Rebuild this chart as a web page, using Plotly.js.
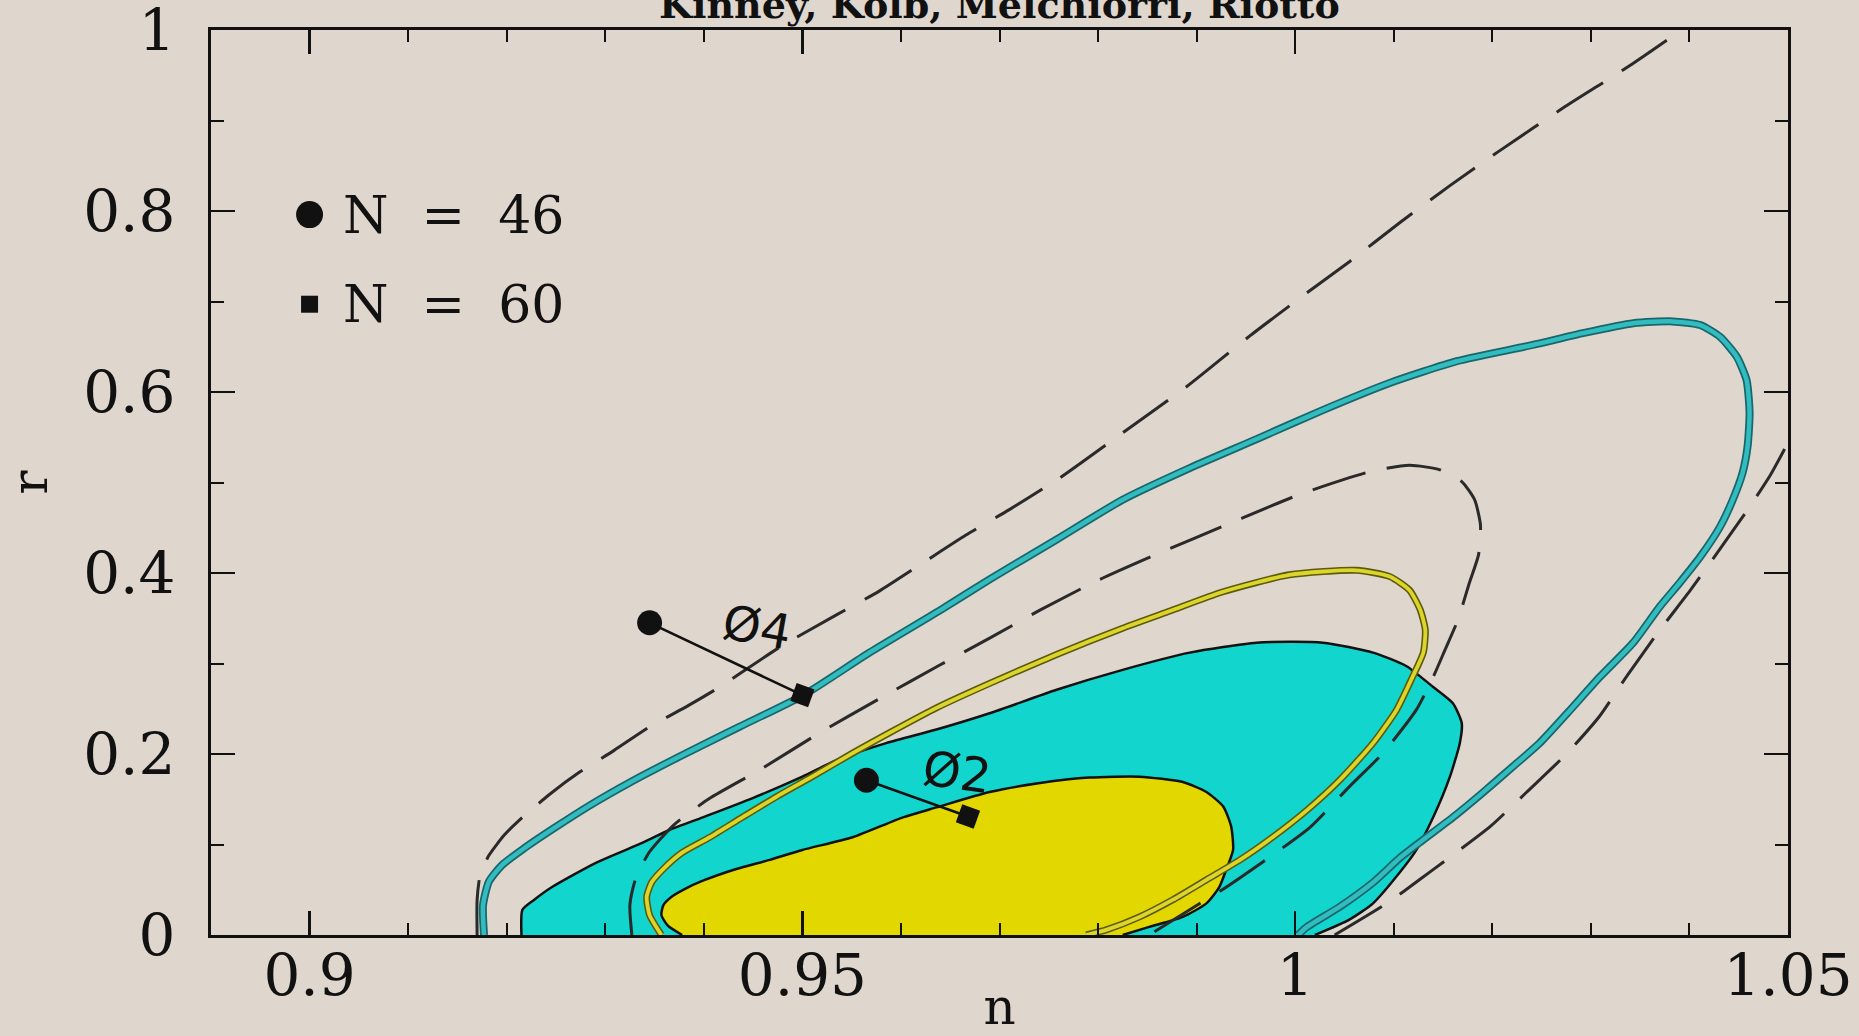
<!DOCTYPE html>
<html><head><meta charset="utf-8">
<script src="https://cdn.plot.ly/plotly-3.0.1.min.js"></script>
<style>html,body{margin:0;padding:0;background:#dfd6cd;overflow:hidden}</style>
</head><body><div id="chart" style="width:1859px;height:1036px"></div>
<script>
// ---- data (n, r) ----
const cyanFillN = [0.9215,0.9216,0.9228,0.9246,0.9291,0.9338,0.9365,0.9399,0.9449,0.9500,0.9534,0.9585,0.9636,0.9690,0.9758,0.9825,0.9893,0.9961,1.0028,1.0079,1.0113,1.0140,1.0160,1.0169,1.0167,1.0157,1.0140,1.0123,1.0106,1.0079,1.0055,1.0020];
const cyanFillR = [0,0.028,0.039,0.053,0.080,0.102,0.116,0.130,0.151,0.175,0.193,0.212,0.227,0.245,0.271,0.293,0.312,0.323,0.323,0.312,0.297,0.274,0.256,0.234,0.212,0.175,0.130,0.094,0.069,0.035,0.017,0];

const yellowFillN = [0.9378,0.9363,0.9357,0.9359,0.9367,0.9381,0.9399,0.9433,0.9467,0.9500,0.9551,0.9602,0.9636,0.9690,0.9741,0.9791,0.9842,0.9886,0.9910,0.9927,0.9935,0.9937,0.9930,0.9923,0.9910,0.9886,0.9852,0.9825];
const yellowFillR = [0,0.011,0.022,0.033,0.042,0.051,0.060,0.073,0.083,0.094,0.108,0.130,0.141,0.158,0.168,0.174,0.175,0.169,0.158,0.142,0.120,0.094,0.072,0.053,0.035,0.020,0.009,0];

const cyanLineN = [0.9177,0.9176,0.9182,0.9195,0.9218,0.9248,0.9284,0.9324,0.9375,0.9436,0.9501,0.9568,0.9640,0.9690,0.9758,0.9825,0.9893,0.9961,1.0028,1.0096,1.0164,1.0241,1.0292,1.0343,1.0383,1.0411,1.0431,1.0448,1.0458,1.0461,1.0459,1.0454,1.0444,1.0431,1.0411,1.0390,1.0370,1.0343,1.0309,1.0276,1.0248,1.0225,1.0190,1.0160,1.0126,1.0106,1.0079,1.0045,1.0012,1.0003];
const cyanLineR = [0,0.033,0.059,0.077,0.096,0.118,0.143,0.168,0.197,0.230,0.265,0.312,0.359,0.393,0.437,0.481,0.516,0.548,0.580,0.610,0.634,0.652,0.665,0.676,0.678,0.674,0.661,0.639,0.613,0.577,0.540,0.511,0.481,0.451,0.418,0.389,0.363,0.323,0.285,0.245,0.212,0.190,0.157,0.130,0.102,0.085,0.058,0.031,0.009,0];

const yellowLineN = [0.9357,0.9345,0.9342,0.9347,0.9358,0.9378,0.9406,0.9439,0.9474,0.9510,0.9551,0.9591,0.9636,0.9690,0.9758,0.9825,0.9873,0.9926,0.9994,1.0062,1.0096,1.0116,1.0127,1.0132,1.0130,1.0119,1.0103,1.0079,1.0045,1.0012,0.9977,0.9944,0.9910,0.9876,0.9842,0.9809,0.9788];
const yellowLineR = [0,0.022,0.042,0.058,0.072,0.091,0.108,0.130,0.153,0.175,0.201,0.225,0.251,0.278,0.310,0.339,0.358,0.379,0.398,0.403,0.396,0.381,0.359,0.337,0.312,0.285,0.249,0.212,0.171,0.138,0.108,0.083,0.061,0.039,0.020,0.006,0];

const innerDashN = [0.9327,0.9325,0.9331,0.9345,0.9370,0.9406,0.9456,0.9517,0.9578,0.9639,0.9690,0.9741,0.9802,0.9862,0.9934,1.0005,1.0076,1.0116,1.0147,1.0169,1.0182,1.0188,1.0186,1.0177,1.0165,1.0152,1.0140,1.0123,1.0089,1.0055,1.0015,0.9974,0.9926,0.9893,0.9852];
const innerDashR = [0,0.033,0.063,0.092,0.122,0.151,0.182,0.223,0.261,0.298,0.328,0.359,0.393,0.422,0.455,0.487,0.512,0.519,0.514,0.501,0.481,0.453,0.420,0.390,0.348,0.315,0.285,0.249,0.201,0.164,0.119,0.086,0.050,0.028,0];

const outerDashN = [0.9170,0.9170,0.9173,0.9182,0.9198,0.9216,0.9243,0.9274,0.9309,0.9345,0.9385,0.9416,0.9477,0.9535,0.9578,0.9622,0.9666,0.9710,0.9761,0.9825,0.9890,0.9954,1.0005,1.0055,1.0106,1.0157,1.0208,1.0272,1.0340,1.0392];
const outerDashR = [0,0.039,0.066,0.088,0.111,0.130,0.155,0.180,0.204,0.230,0.254,0.274,0.318,0.354,0.380,0.411,0.442,0.470,0.505,0.555,0.606,0.662,0.704,0.744,0.787,0.828,0.867,0.914,0.961,1.0];

const rightDashN = [1.0040,1.0093,1.0126,1.0157,1.0198,1.0235,1.0276,1.0309,1.0337,1.0370,1.0401,1.0428,1.0461,1.0482,1.0500];
const rightDashR = [0,0.035,0.061,0.086,0.120,0.158,0.201,0.242,0.287,0.337,0.381,0.422,0.473,0.508,0.544];

// model predictions: [N = 46, N = 60]
const phi4N = [0.9345, 0.9500];
const phi4R = [0.345, 0.265];
const phi2N = [0.9565, 0.9668];
const phi2R = [0.171, 0.131];
const modelNames = ["Ø4", "Ø2"];
const modelLabelN = [0.9454, 0.9657];
const modelLabelR = [0.340, 0.1805];

// key
const keyN = [0.9, 0.9];
const keyR = [0.796, 0.697];
const keyText = ["N\u00a0\u00a0=\u00a0\u00a046", "N\u00a0\u00a0=\u00a0\u00a060"];

const xTickVals = [0.9, 0.95, 1, 1.05];
const xTickText = ["0.9", "0.95", "1", "1.05"];
const yTickVals = [0, 0.2, 0.4, 0.6, 0.8, 1];
const yTickText = ["0", "0.2", "0.4", "0.6", "0.8", "1"];
const titleText = "Kinney, Kolb, Melchiorri, Riotto";

// ---- styling ----
const BG = "#dfd6cd";
const SERIF = "DejaVu Serif, serif";
const sp = {shape: "spline", smoothing: 0.6};
const dashPat = "55px,22px";

const traces = [
  {x: cyanFillN, y: cyanFillR, mode: "lines", fill: "toself", fillcolor: "#12d5cd",
   line: Object.assign({color: "#111", width: 2.5}, sp)},
  {x: yellowFillN, y: yellowFillR, mode: "lines", fill: "toself", fillcolor: "#e3d700",
   line: Object.assign({color: "#111", width: 2.5}, sp)},
  {x: innerDashN, y: innerDashR, mode: "lines", line: Object.assign({color: "#2a2a2a", width: 3, dash: dashPat}, sp)},
  {x: outerDashN, y: outerDashR, mode: "lines", line: Object.assign({color: "#2a2a2a", width: 3, dash: dashPat}, sp)},
  {x: rightDashN, y: rightDashR, mode: "lines", line: Object.assign({color: "#2a2a2a", width: 3, dash: dashPat}, sp)},
  {x: cyanLineN, y: cyanLineR, mode: "lines", line: Object.assign({color: "#17676b", width: 8}, sp)},
  {x: cyanLineN, y: cyanLineR, mode: "lines", line: Object.assign({color: "#33bcbf", width: 4.5}, sp)},
  {x: yellowLineN, y: yellowLineR, mode: "lines", line: Object.assign({color: "#5e5a0c", width: 7}, sp)},
  {x: yellowLineN, y: yellowLineR, mode: "lines", line: Object.assign({color: "#dcd52c", width: 3.8}, sp)},
  {x: phi4N, y: phi4R, mode: "lines", line: {color: "#111", width: 2.5}},
  {x: phi2N, y: phi2R, mode: "lines", line: {color: "#111", width: 2.5}},
  {x: [phi4N[0], phi2N[0]], y: [phi4R[0], phi2R[0]], mode: "markers",
   marker: {symbol: "circle", size: 25, color: "#111"}},
  {x: [phi4N[1], phi2N[1]], y: [phi4R[1], phi2R[1]], mode: "markers",
   marker: {symbol: "square", size: 19, color: "#111", angle: 20}},
  {x: [keyN[0]], y: [keyR[0]], mode: "markers", marker: {symbol: "circle", size: 27, color: "#111"}},
  {x: [keyN[1]], y: [keyR[1]], mode: "markers", marker: {symbol: "square", size: 17, color: "#111"}}
];

const annotations = [
  {text: titleText, xref: "paper", yref: "paper", x: 0.5, y: 1, xanchor: "center", yanchor: "bottom",
   yshift: 1, showarrow: false, font: {family: SERIF, size: 38, color: "#111", weight: "bold"}},
  {text: keyText[0], x: keyN[0] + 0.0032, y: keyR[0], xanchor: "left", yanchor: "middle", showarrow: false,
   font: {family: SERIF, size: 52, color: "#111"}},
  {text: keyText[1], x: keyN[1] + 0.0032, y: keyR[1], xanchor: "left", yanchor: "middle", showarrow: false,
   font: {family: SERIF, size: 52, color: "#111"}},
  {text: modelNames[0], x: modelLabelN[0], y: modelLabelR[0], showarrow: false, textangle: 10,
   font: {family: "DejaVu Sans, sans-serif", size: 48, color: "#111"}},
  {text: modelNames[1], x: modelLabelN[1], y: modelLabelR[1], showarrow: false, textangle: 8,
   font: {family: "DejaVu Sans, sans-serif", size: 48, color: "#111"}}
];

const axisCommon = {
  showgrid: false, zeroline: false, showline: true, linecolor: "#111", linewidth: 3,
  mirror: "allticks", ticks: "inside", tickcolor: "#111", tickwidth: 2.5, ticklen: 24,
  ticklabeloverflow: "allow",
  tickfont: {family: SERIF, size: 58, color: "#111"}
};

const layout = {
  width: 1859, height: 1036, autosize: false,
  margin: {l: 211, r: 71, t: 30, b: 101, pad: 0},
  paper_bgcolor: BG, plot_bgcolor: BG,
  showlegend: false,
  xaxis: Object.assign({}, axisCommon, {
    range: [0.89, 1.05], tickmode: "array", tickvals: xTickVals, ticktext: xTickText,
    ticklabelstandoff: -13,
    minor: {dtick: 0.01, tick0: 0.9, ticks: "inside", ticklen: 12, tickwidth: 2, tickcolor: "#111", showgrid: false},
    title: {text: "n", font: {family: SERIF, size: 50, color: "#111"}, standoff: 49}
  }),
  yaxis: Object.assign({}, axisCommon, {
    range: [0, 1], tickmode: "array", tickvals: yTickVals, ticktext: yTickText,
    ticklabelstandoff: 21,
    minor: {dtick: 0.1, tick0: 0, ticks: "inside", ticklen: 13, tickwidth: 2, tickcolor: "#111", showgrid: false},
    title: {text: "r", font: {family: SERIF, size: 50, color: "#111"}, standoff: 20}
  }),
  annotations: annotations
};

Plotly.newPlot("chart", traces, layout, {staticPlot: true, displayModeBar: false});
</script></body></html>
